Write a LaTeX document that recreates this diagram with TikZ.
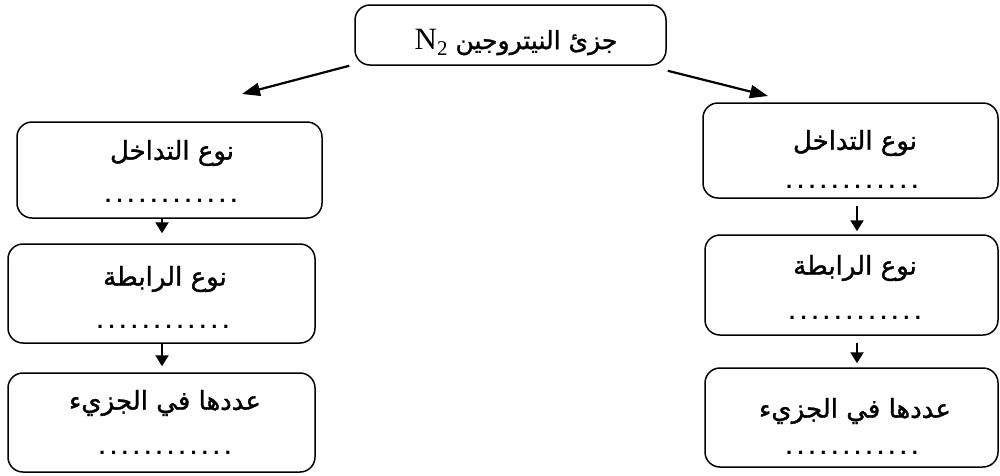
\documentclass[tikz,border=0pt]{standalone}
\usepackage{fontspec}
\setmainfont{Liberation Sans}
\newfontfamily\arabicfont[Script=Arabic,FakeBold=1.2]{DejaVu Sans}
\newfontfamily\serifN{Liberation Serif}
\TeXXeTstate=1
\usetikzlibrary{calc,arrows.meta}
\newcommand{\dotrow}{\fontsize{22}{22}\selectfont\bfseries\foreach \i in {1,...,12}{\ifnum\i>1\hspace{5.3pt}\fi.}}
\begin{document}
\begin{tikzpicture}[x=1pt,y=-1pt,
  box/.style={draw, line width=1.5pt, rounded corners=15pt, inner sep=0pt},
  ttl/.style={font=\arabicfont\fontsize{26}{26}\selectfont, inner sep=0pt},
  dotnode/.style={inner sep=0pt, anchor=base},
  arr/.style={line width=2.2pt, -{Triangle[length=11pt,width=13pt]}},
  darr/.style={line width=2.2pt, -{Triangle[length=18pt,width=13pt]}}]
\useasboundingbox (0,0) rectangle (1000,475);
% top
\node[box, minimum width=311pt, minimum height=60pt] (T) at (510.5,35) {};
\node[ttl, font=\arabicfont\fontsize{25}{25}\selectfont] (Tt) at (516,42) {\beginR جزئ النيتروجين \beginL{\serifN\fontsize{31}{31}\selectfont N\raisebox{-6pt}{\fontsize{21}{21}\selectfont 2}}\endL\endR};
% left column
\node[box, minimum width=305pt, minimum height=96pt] (L1) at (169.5,170) {};
\node[ttl] (L1t) at (172,153) {\beginR نوع التداخل\endR};
\node[dotnode] (L1d) at (171,202) {\dotrow};
\node[box, minimum width=307pt, minimum height=99pt] (L2) at (161.5,293.5) {};
\node[ttl] (L2t) at (165,279) {\beginR نوع الرابطة\endR};
\node[dotnode] (L2d) at (163,328) {\dotrow};
\node[box, minimum width=307pt, minimum height=99pt] (L3) at (161.5,422.5) {};
\node[ttl] (L3t) at (165,403) {\beginR عددها في الجزيء\endR};
\node[dotnode] (L3d) at (165,454) {\dotrow};
% right column
\node[box, minimum width=295pt, minimum height=95pt] (R1) at (850.5,150.5) {};
\node[ttl] (R1t) at (855,143) {\beginR نوع التداخل\endR};
\node[dotnode] (R1d) at (852,188) {\dotrow};
\node[box, minimum width=293pt, minimum height=100pt] (R2) at (851.5,285) {};
\node[ttl] (R2t) at (855,268) {\beginR نوع الرابطة\endR};
\node[dotnode] (R2d) at (855,319) {\dotrow};
\node[box, minimum width=293pt, minimum height=99pt] (R3) at (851.5,417.5) {};
\node[ttl] (R3t) at (855,411) {\beginR عددها في الجزيء\endR};
\node[dotnode] (R3d) at (852,454) {\dotrow};
% connectors
\coordinate (la) at (242,94);
\coordinate (ra) at (768,96);
\draw[darr] ($(T.south west)+(-5,0)$) -- (la);
\draw[darr] ($(T.south east)+(1,5)$) -- (ra);
\draw[arr, shorten >=10pt] (L1.south -| 162,0) -- (L2.north -| 162,0);
\draw[arr, shorten >=6pt] (L2.south -| 162,0) -- (L3.north -| 162,0);
\draw[arr, shorten <=7pt, shorten >=3pt] (R1.south -| 857,0) -- (R2.north -| 857,0);
\draw[arr, shorten <=7pt, shorten >=4pt] (R2.south -| 857,0) -- (R3.north -| 857,0);
\end{tikzpicture}
\end{document}
